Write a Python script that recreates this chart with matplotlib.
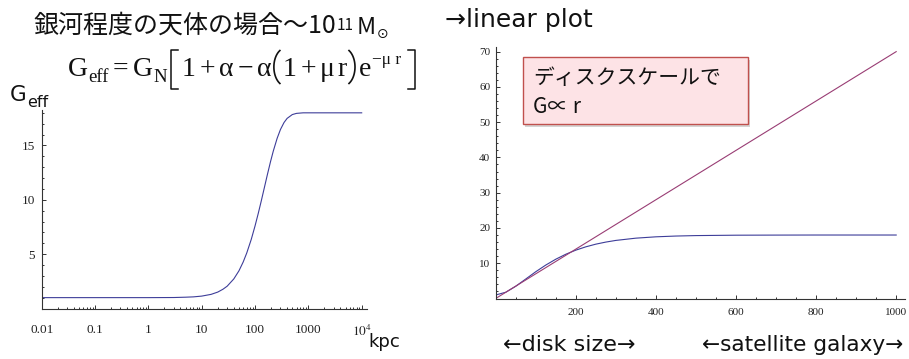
import numpy as np
import matplotlib
matplotlib.use("Agg")
import matplotlib.pyplot as plt
from matplotlib.patches import Rectangle
from matplotlib.lines import Line2D
from matplotlib.ticker import LogLocator, MultipleLocator, NullFormatter

plt.rcParams['mathtext.fontset'] = 'stix'

# log plot, G_eff vs r [kpc]
r_log = [0.01, 0.1, 1, 3, 5, 7, 10, 15, 20, 25, 30, 40, 50, 60, 70, 85, 100,
         115, 130, 150, 170, 195, 220, 260, 300, 350, 400, 500, 600, 800,
         1000, 2000, 5000, 10000]
g_log = [1.00, 1.00, 1.00, 1.01, 1.04, 1.07, 1.14, 1.30, 1.51, 1.77, 2.05,
         2.72, 3.47, 4.28, 5.11, 6.36, 7.59, 8.75, 9.83, 11.14, 12.29, 13.50,
         14.48, 15.66, 16.47, 17.11, 17.49, 17.84, 17.95, 18.00, 18.00,
         18.00, 18.00, 18.00]

# linear plot
r_lin = [0, 25, 50, 75, 100, 125, 150, 175, 200, 225, 250, 275, 300, 350,
         400, 450, 500, 600, 700, 800, 1000]
g_lin = [1.00, 1.77, 3.47, 5.52, 7.59, 9.48, 11.14, 12.55, 13.71, 14.65,
         15.41, 16.00, 16.47, 17.11, 17.49, 17.71, 17.84, 17.95, 17.98,
         18.00, 18.00]
r_prop = [0, 1000]
g_prop = [0, 70]

log_ticks = [0.01, 0.1, 1, 10, 100, 1000, 10000]
log_labels = ['0.01', '0.1', '1', '10', '100', '1000', r'$10^4$']
lin_xticks = [200, 400, 600, 800, 1000]
lin_yticks = [10, 20, 30, 40, 50, 60, 70]

blue = '#3d3d99'
purple = '#993d74'
axis_col = '#333333'

W, H = 909, 359
fig = plt.figure(figsize=(W / 100, H / 100), dpi=100)


def fx(x):
    return x / W


def fy(y):
    return 1 - y / H


def style_axes(ax, lsize):
    for s in ['top', 'right']:
        ax.spines[s].set_visible(False)
    for s in ['left', 'bottom']:
        ax.spines[s].set_color(axis_col)
        ax.spines[s].set_linewidth(0.8)
    ax.tick_params(which='both', direction='in', colors=axis_col,
                   labelcolor='#222222', width=0.7)
    ax.tick_params(which='major', length=3.0)
    ax.tick_params(which='minor', length=1.6)
    for lab in ax.get_xticklabels() + ax.get_yticklabels():
        lab.set_family('Liberation Serif')
        lab.set_fontsize(lsize)


# left: log plot
ax1 = fig.add_axes([fx(41.7), fy(308.5), fx(366.7) - fx(41.7), (308.5 - 110) / H])
ax1.plot(r_log, g_log, color=blue, lw=0.8)
ax1.set_xscale('log')
ax1.set_xlim(0.01, 10 ** 4.094)
ax1.set_ylim(0, 18.26)
ax1.set_xticks(log_ticks)
ax1.set_xticklabels(log_labels)
ax1.xaxis.set_minor_locator(LogLocator(base=10, subs=np.arange(2, 10)))
ax1.xaxis.set_minor_formatter(NullFormatter())
ax1.set_yticks([5, 10, 15])
ax1.yaxis.set_minor_locator(MultipleLocator(1))
style_axes(ax1, 9.5)
ax1.tick_params(axis='x', pad=11)
ax1.tick_params(axis='y', pad=5)

# right: linear plot
ax2 = fig.add_axes([fx(495.7), fy(298.5), fx(905) - fx(495.7), (298.5 - 46.7) / H])
ax2.plot(r_lin, g_lin, color=blue, lw=0.8)
ax2.plot(r_prop, g_prop, color=purple, lw=0.8)
ax2.set_xlim(0, 1022)
ax2.set_ylim(0, 71.4)
ax2.set_xticks(lin_xticks)
ax2.set_yticks(lin_yticks)
ax2.xaxis.set_minor_locator(MultipleLocator(50))
ax2.yaxis.set_minor_locator(MultipleLocator(2))
style_axes(ax2, 8)
ax2.tick_params(axis='x', pad=7)
ax2.tick_params(axis='y', pad=4)

jp = ['Noto Sans CJK JP', 'DejaVu Sans']
ink = '#111111'

# title pieces (left)
fig.text(fx(33), fy(26), '銀河程度の天体の場合〜10', family=jp, fontsize=18,
         va='center', ha='left', color=ink)
fig.text(fx(337), fy(25), '11', family=jp, fontsize=11, va='center',
         ha='left', color=ink)
fig.text(fx(357), fy(27.5), 'M', family=jp, fontsize=17, va='center',
         ha='left', color=ink)
fig.text(fx(377), fy(34), '⊙', family=['DejaVu Sans'], fontsize=10,
         va='center', ha='left', color=ink)


# formula, laid out piece by piece; brackets and parens are drawn as strokes
def bracket(x, left):
    y0, y1, s = 50, 89, 7
    xs = x + 2 if left else x + 10
    sx = s if left else -s
    fig.add_artist(Line2D([fx(xs + sx), fx(xs), fx(xs), fx(xs + sx)],
                          [fy(y0), fy(y0), fy(y1), fy(y1)],
                          transform=fig.transFigure, color=ink, lw=1.1))
    return 12


def paren(x, left):
    rx, ry, cy = 12, 19, 67
    ang = np.radians(np.linspace(120, 240, 30))
    if left:
        cx = x + 14
        px = cx + rx * np.cos(ang)
    else:
        cx = x - 5
        px = cx - rx * np.cos(ang)
    py = cy + ry * np.sin(ang)
    fig.add_artist(Line2D([fx(v) for v in px], [fy(v) for v in py],
                          transform=fig.transFigure, color=ink, lw=1.2))
    return 10


base = 76
formula = [
    ('G', 20, base, 0),
    ('eff', 13.5, base + 6, 0.5),
    ('=', 20, base, 4),
    ('G', 20, base, 4),
    ('N', 13.5, base + 6, 0.5),
    ('[', 0, 0, 2),
    ('1', 20, base, 1),
    ('+', 20, base, 4),
    ('α', 20, base, 4),
    ('−', 20, base, 4),
    ('α', 20, base, 4),
    ('(', 0, 0, 0),
    ('1', 20, base, 0.5),
    ('+', 20, base, 4),
    ('μ', 20, base, 4),
    ('r', 20, base, 3),
    (')', 0, 0, 1),
    ('e', 20, base, 0.5),
    ('−μ r', 12.5, base - 12, 1),
    (']', 0, 0, 4),
]
renderer = fig.canvas.get_renderer()
xcur = 68
for txt, size, ypos, gap in formula:
    xcur += gap
    if txt in '[]':
        xcur += bracket(xcur, txt == '[')
    elif txt in '()':
        xcur += paren(xcur, txt == '(')
    else:
        t = fig.text(fx(xcur), fy(ypos), txt, family='Liberation Serif',
                     fontsize=size, va='baseline', ha='left', color=ink)
        xcur += t.get_window_extent(renderer).width

# axis labels
fig.text(fx(10), fy(100.7), 'G', family='DejaVu Sans', fontsize=15.5,
         va='baseline', ha='left', color=ink)
fig.text(fx(26.7), fy(107), 'eff', family='DejaVu Sans', fontsize=11.5,
         va='baseline', ha='left', color=ink)
fig.text(fx(368), fy(342), 'kpc', family='DejaVu Sans', fontsize=13,
         va='center', ha='left', color=ink)

# right side texts
fig.text(fx(445), fy(20), '→linear plot', family=['DejaVu Sans'],
         fontsize=18, va='center', ha='left', color=ink)
fig.text(fx(503), fy(345), '←disk size→', family=['DejaVu Sans'],
         fontsize=16, va='center', ha='left', color=ink)
fig.text(fx(702), fy(345), '←satellite galaxy→', family=['DejaVu Sans'],
         fontsize=15.6, va='center', ha='left', color=ink)

# annotation box
bx0, by0, bx1, by1 = 523.3, 57.3, 747.7, 124.0
fig.add_artist(Rectangle((fx(bx0 + 2), fy(by1 + 2.5)), (bx1 - bx0) / W,
                         (by1 - by0) / H, transform=fig.transFigure,
                         facecolor='#b8b8b8', edgecolor='none', alpha=0.6))
fig.add_artist(Rectangle((fx(bx0), fy(by1)), (bx1 - bx0) / W,
                         (by1 - by0) / H, transform=fig.transFigure,
                         facecolor='#fde3e6', edgecolor='#c0504d', lw=1.0))
fig.text(fx(533), fy(78), 'ディスクスケールで', family=jp, fontsize=15,
         va='center', ha='left', color=ink)
fig.text(fx(533), fy(106.7), 'G∝ r', family=jp, fontsize=15,
         va='center', ha='left', color=ink)

fig.savefig('out.png', dpi=100)
